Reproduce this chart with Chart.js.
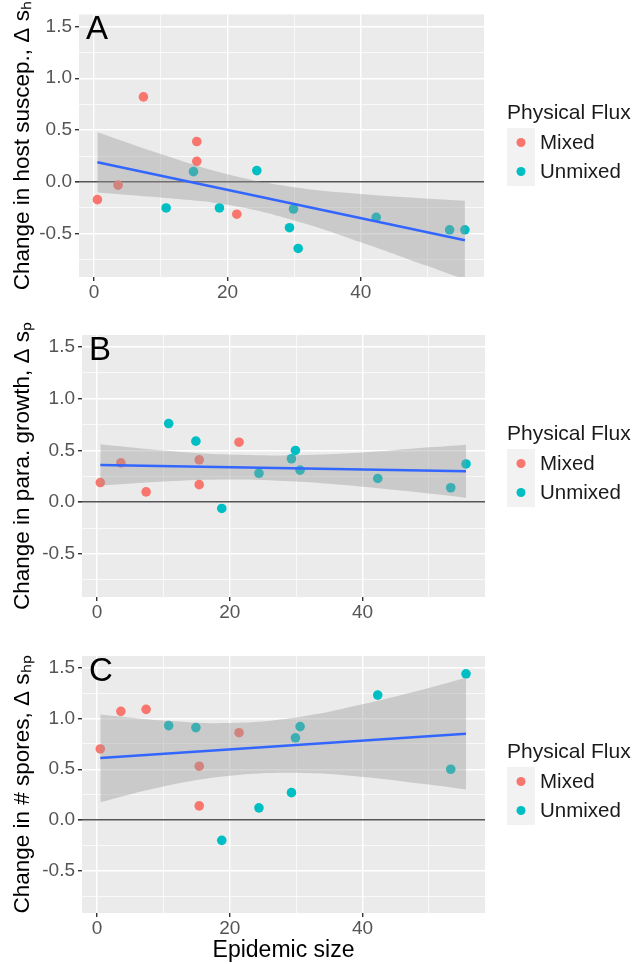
<!DOCTYPE html>
<html>
<head>
<meta charset="utf-8">
<script src="https://cdn.jsdelivr.net/npm/chart.js@4.4.1/dist/chart.umd.min.js"></script>
<style>
  body { margin: 0; background: #fff; }
  canvas { position: absolute; left: 0; }
</style>
</head>
<body>
<canvas id="chartA" width="633" height="320" style="top:0px"></canvas>
<canvas id="chartB" width="633" height="310" style="top:320px"></canvas>
<canvas id="chartC" width="633" height="334" style="top:630px"></canvas>
<script>
// epidemic size of each lake
var mixedX = [0.5, 3.6, 7.4, 15.4, 15.4, 21.4];
var unmixedX = [10.8, 14.9, 18.8, 24.4, 29.3, 29.9, 30.6, 42.3, 53.3, 55.6];

// A: change in host susceptibility
var mixedA = [-0.17, -0.03, 0.82, 0.39, 0.20, -0.31];
var unmixedA = [-0.25, 0.10, -0.25, 0.11, -0.44, -0.26, -0.64, -0.34, -0.46, -0.46];
// B: change in parasite growth
var mixedB = [0.19, 0.38, 0.10, 0.41, 0.17, 0.58];
var unmixedB = [0.76, 0.59, -0.06, 0.28, 0.42, 0.50, 0.31, 0.23, 0.14, 0.37];
// C: change in spores
var mixedC = [0.70, 1.07, 1.09, 0.53, 0.14, 0.86];
var unmixedC = [0.93, 0.91, -0.20, 0.12, 0.27, 0.81, 0.92, 1.23, 0.50, 1.44];

// fitted lines (ends) and confidence band
var fitX = [0.5, 55.6];
var fitA = [0.19, -0.56];
var fitB = [0.36, 0.30];
var fitC = [0.61, 0.85];

var bandX = [0.5, 10, 20, 30, 40, 50, 55.6];
var upperA = [0.48, 0.27, 0.075, -0.05, -0.115, -0.16, -0.18];
var lowerA = [-0.10, -0.15, -0.22, -0.37, -0.58, -0.81, -0.94];
var upperB = [0.56, 0.50, 0.46, 0.455, 0.48, 0.53, 0.556];
var lowerB = [0.16, 0.20, 0.22, 0.20, 0.15, 0.085, 0.044];
var upperC = [1.04, 0.98, 0.955, 1.01, 1.14, 1.30, 1.40];
var lowerC = [0.175, 0.33, 0.435, 0.465, 0.425, 0.35, 0.30];

var groups = ['Mixed', 'Unmixed'];
var groupColors = ['#F8766D', '#00BFC4'];

Chart.defaults.font.family = "'Liberation Sans', Arial, sans-serif";

function pts(xs, ys) {
	var out = [];
	for (var i = 0; i < xs.length; i++) out.push({x: xs[i], y: ys[i]});
	return out;
}

function isMult(v, step) {
	return Math.abs(v / step - Math.round(v / step)) < 1e-6;
}

var panelBg = {
	id: 'panelBg',
	beforeDraw: function(chart) {
		var a = chart.chartArea, c = chart.ctx;
		c.save();
		c.fillStyle = '#EBEBEB';
		c.fillRect(a.left, a.top, a.right - a.left, a.bottom - a.top);
		c.restore();
	}
};

var panelText = {
	id: 'panelText',
	afterDraw: function(chart, args, opts) {
		var a = chart.chartArea, c = chart.ctx;
		c.save();
		// panel letter
		c.fillStyle = '#000';
		c.font = "33px 'Liberation Sans', Arial, sans-serif";
		c.textAlign = 'left';
		c.textBaseline = 'alphabetic';
		c.fillText(opts.letter, a.left + 7, a.top + 25);
		// legend
		var lx = 507, ty = opts.legendY;
		c.font = "21px 'Liberation Sans', Arial, sans-serif";
		c.textBaseline = 'middle';
		c.fillStyle = '#1a1a1a';
		c.fillText('Physical Flux', lx, ty);
		c.font = "20.5px 'Liberation Sans', Arial, sans-serif";
		for (var i = 0; i < groups.length; i++) {
			var top = ty + 15 + i * 29;
			c.fillStyle = '#F2F2F2';
			c.fillRect(lx, top, 28, 29);
			c.fillStyle = groupColors[i];
			c.beginPath();
			c.arc(lx + 14, top + 14.5, 4.5, 0, Math.PI * 2);
			c.fill();
			c.fillStyle = '#1a1a1a';
			c.fillText(groups[i], lx + 33, top + 15);
		}
		c.restore();
	}
};

function makePanel(id, p) {
	var ctx = document.getElementById(id);
	var xScale = {
		type: 'linear',
		min: -2.26,
		max: 58.46,
		border: {display: false},
		afterFit: function(s) { s.height = p.xHeight; },
		grid: {
			color: '#FFFFFF',
			lineWidth: function(c) { return isMult(c.tick.value, 20) ? 1.4 : 0.7; },
			tickLength: 4,
			tickColor: function(c) { return isMult(c.tick.value, 20) ? '#333333' : 'rgba(0,0,0,0)'; }
		},
		ticks: {
			stepSize: 10,
			includeBounds: false,
			autoSkip: false,
			maxRotation: 0,
			padding: 0,
			color: '#555555',
			font: {size: 19},
			callback: function(v) { return isMult(v, 20) ? String(v) : ''; }
		},
		title: {
			display: !!p.xTitle,
			text: p.xTitle || '',
			color: '#000',
			font: {size: 23},
			padding: {top: 0, bottom: 0}
		}
	};
	var yScale = {
		type: 'linear',
		min: -0.915,
		max: 1.615,
		border: {display: false},
		afterFit: function(s) { s.width = p.yWidth; },
		grid: {
			color: function(c) { return Math.abs(c.tick.value) < 1e-6 ? '#555555' : '#FFFFFF'; },
			lineWidth: function(c) {
				if (Math.abs(c.tick.value) < 1e-6) return 1.6;
				return isMult(c.tick.value, 0.5) ? 1.4 : 0.7;
			},
			tickLength: 4,
			tickColor: function(c) { return isMult(c.tick.value, 0.5) ? '#333333' : 'rgba(0,0,0,0)'; }
		},
		ticks: {
			stepSize: 0.25,
			includeBounds: false,
			autoSkip: false,
			padding: 3,
			color: '#555555',
			font: {size: 19},
			callback: function(v) { return isMult(v, 0.5) ? v.toFixed(1) : ''; }
		},
		title: {
			display: true,
			text: p.yTitle,
			color: '#000',
			font: {size: 22.5},
			padding: {top: 9, bottom: 0}
		}
	};

	return new Chart(ctx, {
		type: 'scatter',
		data: {
			datasets: [
				{
					label: 'fit', type: 'line', data: pts(fitX, p.fit),
					borderColor: '#3366FF', borderWidth: 2.5, pointRadius: 0, fill: false, order: 0
				},
				{
					label: 'upper', type: 'line', data: pts(bandX, p.upper),
					borderColor: 'rgba(0,0,0,0)', borderWidth: 1, pointRadius: 0, tension: 0.4,
					fill: '+1', backgroundColor: 'rgba(153,153,153,0.4)', order: 1
				},
				{
					label: 'lower', type: 'line', data: pts(bandX, p.lower),
					borderColor: 'rgba(0,0,0,0)', borderWidth: 1, pointRadius: 0, tension: 0.4,
					fill: false, order: 2
				},
				{
					label: groups[0], data: pts(mixedX, p.mixed),
					backgroundColor: groupColors[0], borderWidth: 0, pointRadius: 4.8, order: 3
				},
				{
					label: groups[1], data: pts(unmixedX, p.unmixed),
					backgroundColor: groupColors[1], borderWidth: 0, pointRadius: 4.8, order: 4
				}
			]
		},
		options: {
			responsive: false,
			animation: false,
			devicePixelRatio: 1,
			layout: {padding: {left: 0, right: p.padRight, top: p.padTop, bottom: 0}},
			scales: {x: xScale, y: yScale},
			plugins: {
				legend: {display: false},
				tooltip: {enabled: false},
				panelText: {letter: p.letter, legendY: p.legendY}
			}
		},
		plugins: [panelBg, panelText]
	});
}

makePanel('chartA', {
	letter: 'A', yTitle: 'Change in host suscep., \u0394 s\u2095',
	mixed: mixedA, unmixed: unmixedA, fit: fitA, upper: upperA, lower: lowerA,
	padTop: 14, padRight: 149, yWidth: 79, xHeight: 43, legendY: 113
});
makePanel('chartB', {
	letter: 'B', yTitle: 'Change in para. growth, \u0394 s\u209A',
	mixed: mixedB, unmixed: unmixedB, fit: fitB, upper: upperB, lower: lowerB,
	padTop: 15, padRight: 148, yWidth: 82, xHeight: 33, legendY: 114
});
makePanel('chartC', {
	letter: 'C', yTitle: 'Change in # spores, \u0394 s\u2095\u209A', xTitle: 'Epidemic size',
	mixed: mixedC, unmixed: unmixedC, fit: fitC, upper: upperC, lower: lowerC,
	padTop: 26, padRight: 148, yWidth: 82, xHeight: 51, legendY: 122
});
</script>
</body>
</html>
